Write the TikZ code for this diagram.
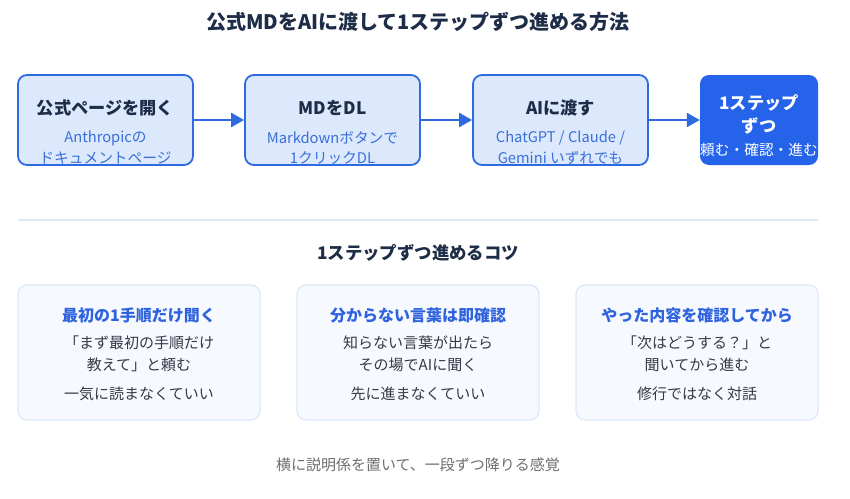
\documentclass[tikz,border=0pt]{standalone}
\usepackage{fontspec}
\setmainfont{Noto Sans CJK JP}
\usepackage{xcolor}
\usetikzlibrary{arrows.meta}

\definecolor{inkdark}{HTML}{1E2D47}
\definecolor{stepblue}{HTML}{2F6BE0}
\definecolor{stepfill}{HTML}{DCE9FD}
\definecolor{stepsub}{HTML}{3A6FD8}
\definecolor{goalblue}{HTML}{2563EB}
\definecolor{cardfill}{HTML}{F6F9FE}
\definecolor{cardline}{HTML}{DCE7F9}
\definecolor{cardhead}{HTML}{2F63DE}
\definecolor{cardtext}{HTML}{343A46}
\definecolor{footgray}{HTML}{6E6E6E}

\begin{document}
\begin{tikzpicture}[x=1pt,y=-1pt,
  stepbox/.style={draw=stepblue, line width=1.8pt, fill=stepfill, rounded corners=9pt,
    minimum width=175pt, minimum height=90pt, inner sep=0pt},
  goalbox/.style={fill=goalblue, rounded corners=9pt,
    minimum width=118pt, minimum height=90pt, inner sep=0pt},
  tipcard/.style={draw=cardline, line width=1.2pt, fill=cardfill, rounded corners=9pt,
    minimum width=242pt, minimum height=135pt, inner sep=0pt},
  steptitle/.style={font=\fontsize{17.2}{19}\selectfont\bfseries, text=inkdark, inner sep=0pt},
  stepnote/.style={font=\fontsize{14.7}{16}\selectfont, text=stepsub, inner sep=0pt},
  cardtitle/.style={font=\fontsize{16}{18}\selectfont\bfseries, text=cardhead, inner sep=0pt},
  cardnote/.style={font=\fontsize{15}{17}\selectfont, text=cardtext, inner sep=0pt},
  flow/.style={draw=stepblue, line width=2.4pt, -{Triangle[length=13pt,width=14pt]}}]

\useasboundingbox (0,0) rectangle (850,498);

\node[font=\fontsize{20}{23}\selectfont\bfseries, text=inkdark] (title) at (418,22) {公式MDをAIに渡して1ステップずつ進める方法};

\node[stepbox] (open) at (105.5,120) {};
\node[stepbox] (dl) at (332.5,120) {};
\node[stepbox] (pass) at (560.5,120) {};
\node[goalbox] (goal) at (759,120) {};

\draw[flow] (open.east) -- (dl.west);
\draw[flow] (dl.east) -- (pass.west);
\draw[flow] (pass.east) -- (goal.west);

\node[steptitle] (opent) at (105.5,108) {公式ページを開く};
\node[stepnote] (open1) at (105.5,138) {Anthropicの};
\node[stepnote] (open2) at (105.5,158) {ドキュメントページ};

\node[steptitle] (dlt) at (332.5,108) {MDをDL};
\node[stepnote] (dl1) at (332.5,138) {Markdownボタンで};
\node[stepnote] (dl2) at (332.5,158) {1クリックDL};

\node[steptitle] (passt) at (560.5,108) {AIに渡す};
\node[stepnote] (pass1) at (560.5,138) {ChatGPT / Claude /};
\node[stepnote] (pass2) at (560.5,158) {Gemini いずれでも};

\node[steptitle, text=white] (goal1) at (759,103) {1ステップ};
\node[steptitle, text=white] (goal2) at (759,126) {ずつ};
\node[stepnote, text=white] (goal3) at (759,150) {頼む・確認・進む};

\coordinate (sepl) at (18,220);
\coordinate (sepr) at (818,220);
\draw[cardline, line width=1.2pt] (sepl) -- (sepr);

\node[font=\fontsize{17.4}{20}\selectfont\bfseries, text=inkdark] (tips) at (418,253) {1ステップずつ進めるコツ};

\node[tipcard] (tip1) at (139,352.5) {};
\node[tipcard] (tip2) at (418,352.5) {};
\node[tipcard] (tip3) at (697,352.5) {};

\node[cardtitle] (tip1t) at (139,315) {最初の1手順だけ聞く};
\node[cardnote] (tip1a) at (139,343) {「まず最初の手順だけ};
\node[cardnote] (tip1b) at (139,365) {教えて」と頼む};
\node[cardnote] (tip1c) at (139,394) {一気に読まなくていい};

\node[cardtitle] (tip2t) at (418,315) {分からない言葉は即確認};
\node[cardnote] (tip2a) at (418,343) {知らない言葉が出たら};
\node[cardnote] (tip2b) at (418,365) {その場でAIに聞く};
\node[cardnote] (tip2c) at (418,394) {先に進まなくていい};

\node[cardtitle] (tip3t) at (697,315) {やった内容を確認してから};
\node[cardnote] (tip3a) at (697,343) {「次はどうする？」と};
\node[cardnote] (tip3b) at (697,365) {聞いてから進む};
\node[cardnote] (tip3c) at (697,394) {修行ではなく対話};

\node[font=\fontsize{15}{17}\selectfont, text=footgray] (foot) at (418,465) {横に説明係を置いて、一段ずつ降りる感覚};
\end{tikzpicture}
\end{document}
